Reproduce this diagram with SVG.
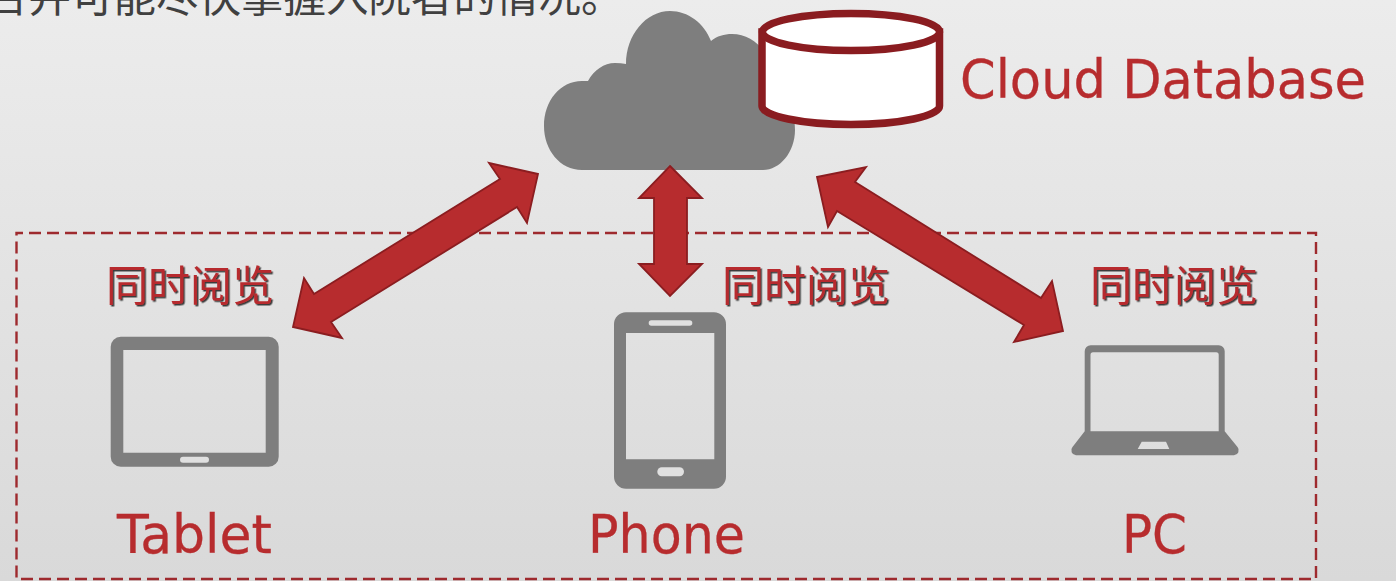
<svg xmlns="http://www.w3.org/2000/svg" width="1396" height="581" viewBox="0 0 1396 581">
<style>
.lbl{font-family:"DejaVu Sans","Liberation Sans",sans-serif;font-size:54px;fill:#b72c2e;stroke:#b72c2e;stroke-width:.3}
.cjk{font-family:"Noto Sans CJK SC",sans-serif;font-size:42px;font-weight:400;fill:#b72c2e;filter:url(#sh)}
.arrow{fill:#b72c2e;stroke:#8b1d20;stroke-width:1.800;stroke-linejoin:miter}
.dev{fill:#7e7e7e}
.hole{fill:#e0e0e0}
</style>
<defs>
<linearGradient id="bg" x1="0" y1="0" x2="0" y2="1"><stop offset="0" stop-color="#ececec"/><stop offset="1" stop-color="#d9d9d9"/></linearGradient>
<filter id="sh" x="-5%" y="-5%" width="110%" height="115%"><feDropShadow dx="1.500" dy="1.500" stdDeviation="0.500" flood-color="#222" flood-opacity="0.850"/></filter>
</defs>
<rect width="1396" height="581" fill="url(#bg)"/>
<text x="-14" y="12" font-family="'Noto Sans CJK SC',sans-serif" font-size="42.500" font-weight="400" fill="#404040">合并可能尽快掌握入院者的情况。</text>
<rect id="frame" x="16.500" y="233" width="1299.500" height="346" fill="none" stroke="#9e2a2e" stroke-width="2.400" stroke-dasharray="12 6" stroke-dashoffset="5.500"/>
<g id="cloud"><path class="dev" d="M582 170C560 170 544 150 544 126C544 101 560 81 582 81Q585 81 588 81C594 70 604 63 615 63Q621 63 626 64C626 35 646 11 670 11C688 11 704 23 711 41C717 36 724 34 732 34C752 34 768 50 772 70C785 80 795 105 795 130C795 152 780 170 763 170Z"/></g>
<g id="database">
<path d="M762 32V106C762 116 802 124.500 851 124.500C900 124.500 939.500 116 939.500 106V32Z" fill="#fff" stroke="#8a1c20" stroke-width="7.500"/>
<ellipse cx="851" cy="32" rx="88.500" ry="18.500" fill="#fff" stroke="#8a1c20" stroke-width="7.500"/>
<text class="lbl" x="960" y="98" textLength="406" lengthAdjust="spacingAndGlyphs">Cloud Database</text>
</g>
<g id="tablet">
<path class="dev" fill-rule="evenodd" d="M120.700 336.700H268.700a10 10 0 0 1 10 10V456.700a10 10 0 0 1 -10 10H120.700a10 10 0 0 1 -10 -10V346.700a10 10 0 0 1 10 -10ZM123.300 350V452.700H265.700V350Z"/>
<rect class="hole" x="180" y="456.700" width="29" height="6" rx="3"/>
<text class="cjk" x="106" y="301">同时阅览</text>
<text class="lbl" x="117" y="553" textLength="155" lengthAdjust="spacingAndGlyphs">Tablet</text>
</g>
<g id="phone">
<path class="dev" fill-rule="evenodd" d="M626 312.300H714a12 12 0 0 1 12 12V476.700a12 12 0 0 1 -12 12H626a12 12 0 0 1 -12 -12V324.300a12 12 0 0 1 12 -12ZM626 333V459.300H714.300V333Z"/>
<rect class="hole" x="648.700" y="320.300" width="43.600" height="5.400" rx="2.700"/>
<rect class="hole" x="657.300" y="467.300" width="26.700" height="9" rx="4.500"/>
<text class="cjk" x="722" y="301">同时阅览</text>
<text class="lbl" x="588" y="553" textLength="157" lengthAdjust="spacingAndGlyphs">Phone</text>
</g>
<g id="pc">
<path class="dev" fill-rule="evenodd" d="M1091 345.300H1218.700a6 6 0 0 1 6 6V431.300L1237.500 447a5 5 0 0 1 -3.500 8.300H1076a5 5 0 0 1 -3.500 -8.300L1084.700 431.300V351.300a6 6 0 0 1 6 -6ZM1093 352.300a2.500 2.500 0 0 0 -2.500 2.500V431.300H1218.700V354.800a2.500 2.500 0 0 0 -2.500 -2.500ZM1141.700 441.700L1137.700 449H1169.300L1166 441.700Z"/>
<text class="cjk" x="1090" y="301">同时阅览</text>
<text class="lbl" x="1122" y="553" textLength="65" lengthAdjust="spacingAndGlyphs">PC</text>
</g>
<g id="connectors">
<polygon class="arrow" points="538,174 489,163 500,179 314,294 304,278 293,327 342,338 331,322 517,207 527,223"/>
<polygon class="arrow" points="670,166 702,198 687,198 687,264 702,264 670,296 639,264 654,264 654,198 639,198"/>
<polygon class="arrow" points="817,177 866,167 855,182 1041,298 1052,281 1063,331 1014,342 1024,325 837,211 828,227"/>
</g>
</svg>
